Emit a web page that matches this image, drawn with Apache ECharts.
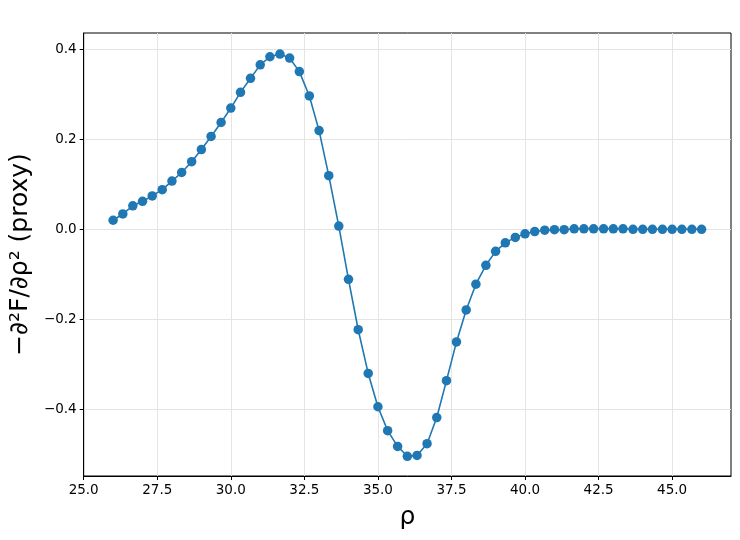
<!DOCTYPE html>
<html>
<head>
<meta charset="utf-8">
<script src="https://cdn.jsdelivr.net/npm/echarts@6/dist/echarts.min.js"></script>
<style>html,body{margin:0;padding:0;background:#fff}#c{width:740px;height:540px}</style>
</head>
<body>
<div id="c"></div>
<script>
const rhoValues = [
  26.00, 26.33, 26.67, 27.00, 27.33, 27.67, 28.00, 28.33, 28.67, 29.00,
  29.33, 29.67, 30.00, 30.33, 30.67, 31.00, 31.33, 31.67, 32.00, 32.33,
  32.67, 33.00, 33.33, 33.67, 34.00, 34.33, 34.67, 35.00, 35.33, 35.67,
  36.00, 36.33, 36.67, 37.00, 37.33, 37.67, 38.00, 38.33, 38.67, 39.00,
  39.33, 39.67, 40.00, 40.33, 40.67, 41.00, 41.33, 41.67, 42.00, 42.33,
  42.67, 43.00, 43.33, 43.67, 44.00, 44.33, 44.67, 45.00, 45.33, 45.67,
  46.00
];
const proxyValues = [
  0.020, 0.034, 0.052, 0.062, 0.074, 0.088, 0.107, 0.126, 0.150, 0.177,
  0.206, 0.237, 0.269, 0.304, 0.335, 0.365, 0.383, 0.389, 0.380, 0.350,
  0.296, 0.219, 0.119, 0.007, -0.111, -0.223, -0.320, -0.394, -0.447, -0.482,
  -0.504, -0.502, -0.476, -0.418, -0.336, -0.250, -0.179, -0.122, -0.080, -0.049,
  -0.030, -0.018, -0.010, -0.005, -0.002, -0.001, -0.001, 0.001, 0.001, 0.001,
  0.001, 0.001, 0.001, 0.000, 0.000, 0.000, 0.000, 0.000, 0.000, 0.000,
  0.000
];
const xTicks = [25.0, 27.5, 30.0, 32.5, 35.0, 37.5, 40.0, 42.5, 45.0];
const yTicks = [-0.4, -0.2, 0.0, 0.2, 0.4];
const xTitle = 'ρ';
const yTitle = '−∂²F/∂ρ² (proxy)';

const font = 'DejaVu Sans';
const chart = echarts.init(document.getElementById('c'), null, {renderer: 'canvas'});
chart.setOption({
  animation: false,
  backgroundColor: '#fff',
  grid: {left: 83, top: 33, width: 648, height: 443, show: true, borderColor: '#000', borderWidth: 1, backgroundColor: 'transparent'},
  xAxis: {
    type: 'value', min: 25, max: 47,
    name: xTitle, nameLocation: 'middle', nameGap: 29,
    nameTextStyle: {fontFamily: font, fontSize: 25, color: '#000'},
    axisLine: {show: true, onZero: false, lineStyle: {color: '#000', width: 1}},
    axisTick: {show: true, inside: false, length: 4, customValues: xTicks, lineStyle: {color: '#000'}},
    axisLabel: {customValues: xTicks, fontFamily: font, fontSize: 13.5, color: '#000', margin: 7,
      formatter: v => v.toFixed(1)},
    splitLine: {show: true, customValues: xTicks, lineStyle: {color: '#e4e4e4', width: 1}}
  },
  yAxis: {
    type: 'value', min: -0.5477, max: 0.4357,
    name: yTitle, nameLocation: 'middle', nameGap: 45, nameRotate: 90,
    nameTextStyle: {fontFamily: font, fontSize: 25, color: '#000'},
    axisLine: {show: true, onZero: false, lineStyle: {color: '#000', width: 1}},
    axisTick: {show: true, inside: false, length: 4, customValues: yTicks, lineStyle: {color: '#000'}},
    axisLabel: {customValues: yTicks, fontFamily: font, fontSize: 13.5, color: '#000', margin: 7,
      formatter: v => v.toFixed(1).replace('-', '−')},
    splitLine: {show: true, customValues: yTicks, lineStyle: {color: '#e4e4e4', width: 1}}
  },
  series: [{
    type: 'line',
    data: rhoValues.map((x, i) => [x, proxyValues[i]]),
    symbol: 'circle', symbolSize: 9.5,
    itemStyle: {color: '#1f77b4'},
    lineStyle: {color: '#1f77b4', width: 1.6},
    z: 3
  }]
});
</script>
</body>
</html>
